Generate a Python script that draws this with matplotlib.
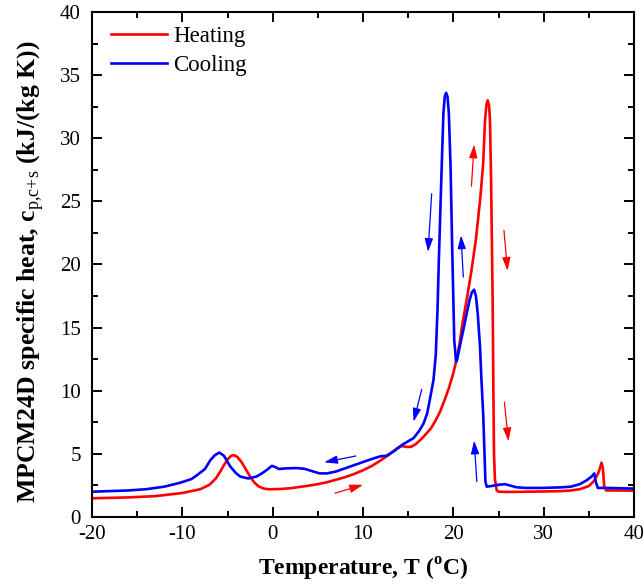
import numpy as np
import matplotlib
matplotlib.use('Agg')
import matplotlib.pyplot as plt
from matplotlib.ticker import MultipleLocator

# 폰트 설정
plt.rcParams['font.family'] = ['Liberation Serif', 'DejaVu Serif']
plt.rcParams['mathtext.fontset'] = 'custom'
plt.rcParams['mathtext.rm'] = 'Liberation Serif'
plt.rcParams['mathtext.bf'] = 'Liberation Serif:bold'
plt.rcParams['axes.unicode_minus'] = False

# heating curve (T in degC, cp in kJ/(kg K))
heat_T = [-20, -16, -13, -10, -8, -7, -6.3, -5.8, -5.4, -5.0, -4.6, -4.3, -3.9, -3.4,
          -3.0, -2.5, -2.0, -1.5, -1.0, -0.5, 0, 1, 2, 3, 4, 5, 6, 7, 8, 9, 10, 11, 12,
          13, 13.8, 14.3, 14.8, 15.3, 15.8, 16.5, 17.0, 17.5, 18.0, 18.5, 19.0, 19.5,
          20.0, 20.3, 20.7, 21.0, 21.5, 22.0, 22.5, 23.0, 23.3, 23.5, 23.65, 23.8,
          23.95, 24.05, 24.17, 24.35, 24.43, 24.5, 24.6, 24.8, 25.0, 26, 28, 30, 32, 33,
          34, 35, 35.5, 36.0, 36.2, 36.4, 36.55, 36.7, 36.9, 37.2, 38, 40]
heat_cp = [1.48, 1.55, 1.65, 1.9, 2.2, 2.55, 3.05, 3.6, 4.1, 4.55, 4.85, 4.9, 4.75, 4.3,
           3.8, 3.2, 2.7, 2.4, 2.25, 2.2, 2.2, 2.22, 2.28, 2.38, 2.48, 2.6, 2.75, 2.95,
           3.15, 3.4, 3.7, 4.05, 4.5, 5.0, 5.45, 5.62, 5.55, 5.55, 5.75, 6.2, 6.6, 7.0,
           7.6, 8.3, 9.2, 10.2, 11.4, 12.3, 13.8, 15.3, 17.3, 19.5, 22.0, 25.4, 28.0,
           31.3, 32.6, 33.0, 32.6, 31.5, 27.0, 17.2, 10.0, 5.0, 3.0, 2.1, 2.0, 1.98, 2.0,
           2.02, 2.05, 2.1, 2.2, 2.45, 2.8, 3.4, 3.8, 4.3, 3.9, 2.4, 2.1, 2.1, 2.1, 2.08]

# cooling curve
cool_T = [-20, -16, -14, -12, -10.3, -9, -8.4, -7.5, -6.9, -6.4, -5.9, -5.4, -4.7, -4.1,
          -3.6, -2.7, -1.8, -1.2, -0.6, -0.1, 0.3, 0.7, 1.5, 2.7, 3.5, 4.5, 5.2, 6, 7, 8,
          9, 10, 11, 11.9, 12.6, 13.5, 14.3, 15.0, 15.6, 16.2, 16.7, 17.1, 17.4, 17.8,
          18.05, 18.25, 18.4, 18.55, 18.7, 18.9, 19.05, 19.2, 19.35, 19.5, 19.7, 19.85,
          20.0, 20.1, 20.3, 20.4, 20.8, 21.1, 21.5, 21.8, 22.05, 22.3, 22.5, 22.7, 22.95,
          23.1, 23.3, 23.45, 23.55, 23.7, 24.2, 25, 25.7, 27, 28, 30, 32, 33, 34, 34.75,
          35.3, 35.6, 35.8, 36.0, 37, 40]
cool_cp = [2.0, 2.1, 2.2, 2.4, 2.7, 3.0, 3.3, 3.8, 4.5, 4.9, 5.1, 4.85, 4.0, 3.5, 3.2,
           3.05, 3.2, 3.45, 3.75, 4.05, 3.95, 3.8, 3.85, 3.87, 3.82, 3.6, 3.45, 3.45,
           3.6, 3.85, 4.1, 4.35, 4.6, 4.8, 4.85, 5.25, 5.7, 6.0, 6.25, 6.8, 7.4, 8.2,
           9.3, 10.85, 12.8, 16.5, 20.5, 24.0, 27.5, 32.0, 33.3, 33.6, 33.3, 32.0, 27.5,
           22.0, 17.2, 14.0, 12.3, 12.4, 13.8, 14.8, 16.2, 17.2, 17.8, 18.0, 17.5, 16.1,
           13.5, 11.0, 8.2, 5.0, 2.8, 2.4, 2.45, 2.55, 2.6, 2.35, 2.3, 2.3, 2.35, 2.4,
           2.6, 2.9, 3.2, 3.45, 2.7, 2.3, 2.3, 2.25]

# direction arrows: (tail T, tail cp, head T, head cp)
heat_arrows = [(6.9, 1.88, 10.0, 2.55), (22.0, 26.2, 22.3, 29.5),
               (25.6, 22.7, 26.0, 19.5), (25.65, 9.1, 26.1, 6.0)]
cool_arrows = [(9.2, 4.83, 5.7, 4.33), (16.5, 10.1, 15.6, 7.55),
               (17.6, 25.6, 17.2, 21.0), (21.1, 19.0, 20.85, 22.3),
               (22.6, 2.8, 22.3, 6.05)]

fig = plt.figure(figsize=(6.44, 5.87), dpi=100)
ax = fig.add_axes([0.1429, 0.1193, 0.8416, 0.8603])

ax.plot(heat_T, heat_cp, color='#ff0000', lw=1.9, label='Heating')
ax.plot(cool_T, cool_cp, color='#0000ff', lw=1.9, label='Cooling')

for arrows, col in [(heat_arrows, '#ff0000'), (cool_arrows, '#0000ff')]:
    for x0, y0, x1, y1 in arrows:
        ax.annotate('', xy=(x1, y1), xytext=(x0, y0),
                    arrowprops=dict(arrowstyle='-|>,head_length=0.8,head_width=0.25',
                                    color=col, lw=0.9, mutation_scale=10,
                                    shrinkA=0, shrinkB=0))

ax.set_xlim(-20, 40)
ax.set_ylim(0, 40)
ax.xaxis.set_major_locator(MultipleLocator(10))
ax.xaxis.set_minor_locator(MultipleLocator(5))
ax.yaxis.set_major_locator(MultipleLocator(5))
ax.yaxis.set_minor_locator(MultipleLocator(2.5))
ax.tick_params(which='both', direction='in', top=True, right=True, width=1.4,
               labelsize=15)
ax.tick_params(which='major', length=7)
ax.tick_params(which='minor', length=4)
ax.tick_params(axis='x', pad=6)
ax.tick_params(axis='y', pad=8)
for sp in ax.spines.values():
    sp.set_linewidth(1.5)

ax.set_xlabel(r'Temperature, T ($^{\mathbf{o}}$C)', fontsize=17, fontweight='bold',
              labelpad=8)
ax.set_ylabel(r'MPCM24D specific heat, c$_{\text{p,c+s}}$ (kJ/(kg K))', fontsize=18.5,
              fontweight='bold')
ax.yaxis.set_label_coords(-0.085, 0.485)

ax.legend(loc='upper left', frameon=False, fontsize=16.5, handlelength=2.45,
          handletextpad=0.26, borderaxespad=0, labelspacing=0.35,
          bbox_to_anchor=(0.018, 0.991))

fig.savefig('out.png', dpi=100)
